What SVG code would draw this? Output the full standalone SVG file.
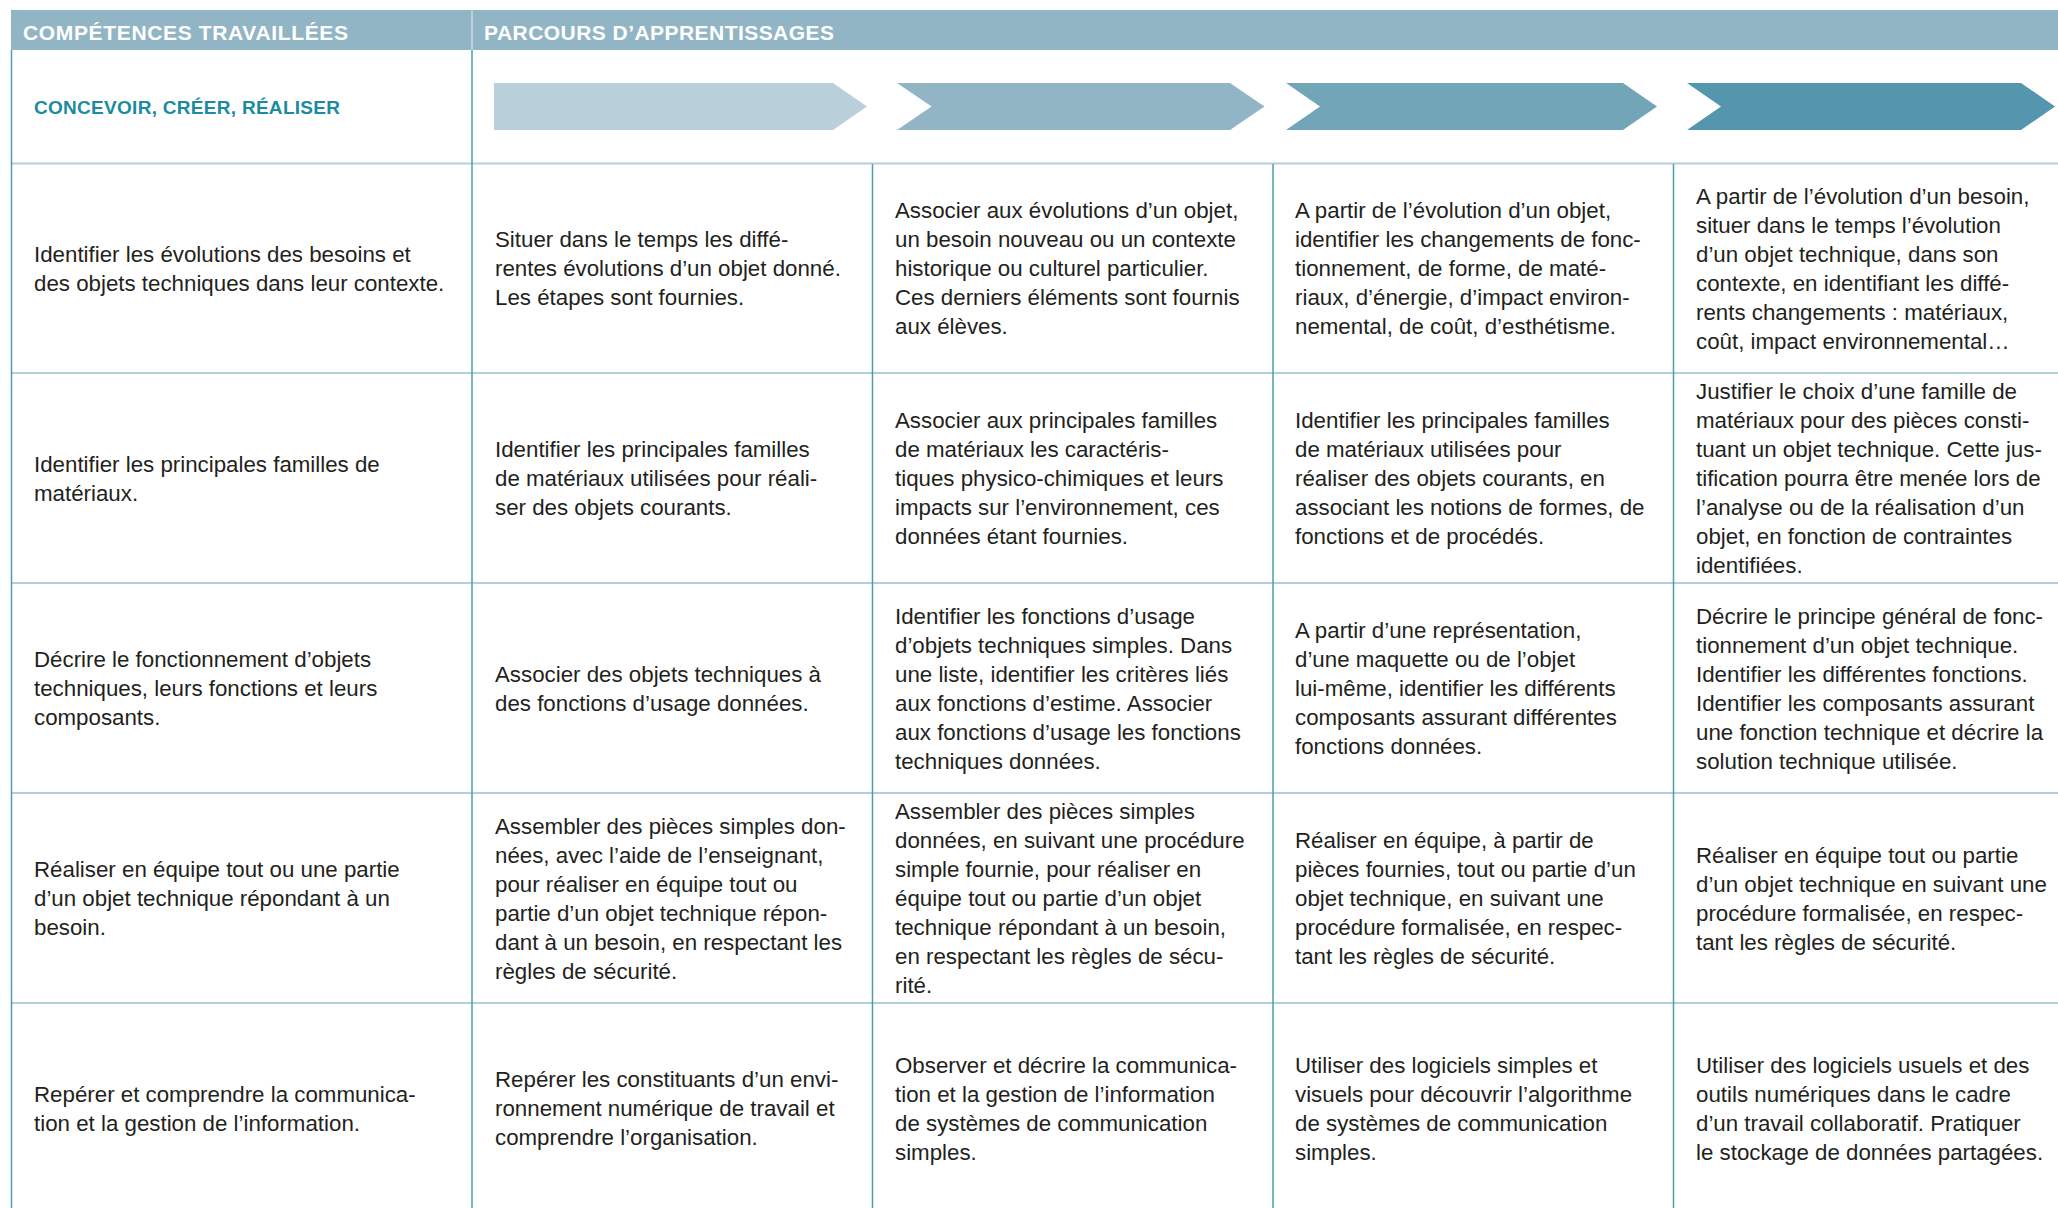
<svg xmlns="http://www.w3.org/2000/svg" width="2058" height="1208" viewBox="0 0 2058 1208">
<style>
.t{font-family:"Liberation Sans",Arial,sans-serif;font-size:22.3px;fill:#231f20}
.h{font-family:"Liberation Sans",Arial,sans-serif;font-size:21px;font-weight:bold;fill:#ffffff}
.c{font-family:"Liberation Sans",Arial,sans-serif;font-size:19px;font-weight:bold;fill:#1b8ba0}
.hl{stroke:#b3cfd9;stroke-width:2;fill:none}
.vl{stroke:#4f9db0;stroke-width:1.5;fill:none}
</style>
<rect width="2058" height="1208" fill="#ffffff"/>
<g id="header">
<rect x="11" y="10" width="2047" height="40" fill="#92b5c5"/>
<line x1="472" y1="10" x2="472" y2="50" stroke="#c9dce4" stroke-width="1.5"/>
<text class="h" x="23" y="39.5" textLength="325" lengthAdjust="spacing">COMPÉTENCES TRAVAILLÉES</text>
<text class="h" x="484" y="39.5" textLength="350" lengthAdjust="spacing">PARCOURS D’APPRENTISSAGES</text>
</g>
<g id="grid">
<line class="hl" x1="11" y1="163.5" x2="2058" y2="163.5"/>
<line class="hl" x1="11" y1="373" x2="2058" y2="373"/>
<line class="hl" x1="11" y1="583" x2="2058" y2="583"/>
<line class="hl" x1="11" y1="793" x2="2058" y2="793"/>
<line class="hl" x1="11" y1="1003" x2="2058" y2="1003"/>
<line class="vl" x1="11.5" y1="50" x2="11.5" y2="1208"/>
<line class="vl" x1="472" y1="50" x2="472" y2="1208"/>
<line class="vl" x1="872.5" y1="164" x2="872.5" y2="1208"/>
<line class="vl" x1="1273" y1="164" x2="1273" y2="1208"/>
<line class="vl" x1="1673.5" y1="164" x2="1673.5" y2="1208"/>
</g>
<g id="concevoir">
<text class="c" x="34" y="114.3" textLength="306" lengthAdjust="spacing">CONCEVOIR, CRÉER, RÉALISER</text>
</g>
<g id="arrows">
<polygon points="494,83 833,83 867,106.5 833,130 494,130" fill="#b9cfd9"/>
<polygon points="897,83 1230,83 1264.5,106.5 1230,130 897,130 931.6,106.5" fill="#92b5c5"/>
<polygon points="1286,83 1623,83 1657,106.5 1623,130 1286,130 1320,106.5" fill="#72a5b7"/>
<polygon points="1687,83 2021,83 2055,106.5 2021,130 1687,130 1721,106.5" fill="#5396ae"/>
</g>
<g id="connectors"></g>

<g id="r1c0"><text class="t" y="261.5"><tspan x="34">Identifier les évolutions des besoins et</tspan><tspan x="34" dy="29">des objets techniques dans leur contexte.</tspan></text></g>
<g id="r1c1"><text class="t" y="247"><tspan x="495">Situer dans le temps les diffé-</tspan><tspan x="495" dy="29">rentes évolutions d’un objet donné.</tspan><tspan x="495" dy="29">Les étapes sont fournies.</tspan></text></g>
<g id="r1c2"><text class="t" y="218"><tspan x="895">Associer aux évolutions d’un objet,</tspan><tspan x="895" dy="29">un besoin nouveau ou un contexte</tspan><tspan x="895" dy="29">historique ou culturel particulier.</tspan><tspan x="895" dy="29">Ces derniers éléments sont fournis</tspan><tspan x="895" dy="29">aux élèves.</tspan></text></g>
<g id="r1c3"><text class="t" y="218"><tspan x="1295">A partir de l’évolution d’un objet,</tspan><tspan x="1295" dy="29">identifier les changements de fonc-</tspan><tspan x="1295" dy="29">tionnement, de forme, de maté-</tspan><tspan x="1295" dy="29">riaux, d’énergie, d’impact environ-</tspan><tspan x="1295" dy="29">nemental, de coût, d’esthétisme.</tspan></text></g>
<g id="r1c4"><text class="t" y="203.5"><tspan x="1696">A partir de l’évolution d’un besoin,</tspan><tspan x="1696" dy="29">situer dans le temps l’évolution</tspan><tspan x="1696" dy="29">d’un objet technique, dans son</tspan><tspan x="1696" dy="29">contexte, en identifiant les diffé-</tspan><tspan x="1696" dy="29">rents changements : matériaux,</tspan><tspan x="1696" dy="29">coût, impact environnemental…</tspan></text></g>

<g id="r2c0"><text class="t" y="471.5"><tspan x="34">Identifier les principales familles de</tspan><tspan x="34" dy="29">matériaux.</tspan></text></g>
<g id="r2c1"><text class="t" y="457"><tspan x="495">Identifier les principales familles</tspan><tspan x="495" dy="29">de matériaux utilisées pour réali-</tspan><tspan x="495" dy="29">ser des objets courants.</tspan></text></g>
<g id="r2c2"><text class="t" y="428"><tspan x="895">Associer aux principales familles</tspan><tspan x="895" dy="29">de matériaux les caractéris-</tspan><tspan x="895" dy="29">tiques physico-chimiques et leurs</tspan><tspan x="895" dy="29">impacts sur l’environnement, ces</tspan><tspan x="895" dy="29">données étant fournies.</tspan></text></g>
<g id="r2c3"><text class="t" y="428"><tspan x="1295">Identifier les principales familles</tspan><tspan x="1295" dy="29">de matériaux utilisées pour</tspan><tspan x="1295" dy="29">réaliser des objets courants, en</tspan><tspan x="1295" dy="29">associant les notions de formes, de</tspan><tspan x="1295" dy="29">fonctions et de procédés.</tspan></text></g>
<g id="r2c4"><text class="t" y="399"><tspan x="1696">Justifier le choix d’une famille de</tspan><tspan x="1696" dy="29">matériaux pour des pièces consti-</tspan><tspan x="1696" dy="29">tuant un objet technique. Cette jus-</tspan><tspan x="1696" dy="29">tification pourra être menée lors de</tspan><tspan x="1696" dy="29">l’analyse ou de la réalisation d’un</tspan><tspan x="1696" dy="29">objet, en fonction de contraintes</tspan><tspan x="1696" dy="29">identifiées.</tspan></text></g>

<g id="r3c0"><text class="t" y="667"><tspan x="34">Décrire le fonctionnement d’objets</tspan><tspan x="34" dy="29">techniques, leurs fonctions et leurs</tspan><tspan x="34" dy="29">composants.</tspan></text></g>
<g id="r3c1"><text class="t" y="681.5"><tspan x="495">Associer des objets techniques à</tspan><tspan x="495" dy="29">des fonctions d’usage données.</tspan></text></g>
<g id="r3c2"><text class="t" y="623.5"><tspan x="895">Identifier les fonctions d’usage</tspan><tspan x="895" dy="29">d’objets techniques simples. Dans</tspan><tspan x="895" dy="29">une liste, identifier les critères liés</tspan><tspan x="895" dy="29">aux fonctions d’estime. Associer</tspan><tspan x="895" dy="29">aux fonctions d’usage les fonctions</tspan><tspan x="895" dy="29">techniques données.</tspan></text></g>
<g id="r3c3"><text class="t" y="638"><tspan x="1295">A partir d’une représentation,</tspan><tspan x="1295" dy="29">d’une maquette ou de l’objet</tspan><tspan x="1295" dy="29">lui-même, identifier les différents</tspan><tspan x="1295" dy="29">composants assurant différentes</tspan><tspan x="1295" dy="29">fonctions données.</tspan></text></g>
<g id="r3c4"><text class="t" y="623.5"><tspan x="1696">Décrire le principe général de fonc-</tspan><tspan x="1696" dy="29">tionnement d’un objet technique.</tspan><tspan x="1696" dy="29">Identifier les différentes fonctions.</tspan><tspan x="1696" dy="29">Identifier les composants assurant</tspan><tspan x="1696" dy="29">une fonction technique et décrire la</tspan><tspan x="1696" dy="29">solution technique utilisée.</tspan></text></g>

<g id="r4c0"><text class="t" y="877"><tspan x="34">Réaliser en équipe tout ou une partie</tspan><tspan x="34" dy="29">d’un objet technique répondant à un</tspan><tspan x="34" dy="29">besoin.</tspan></text></g>
<g id="r4c1"><text class="t" y="833.5"><tspan x="495">Assembler des pièces simples don-</tspan><tspan x="495" dy="29">nées, avec l’aide de l’enseignant,</tspan><tspan x="495" dy="29">pour réaliser en équipe tout ou</tspan><tspan x="495" dy="29">partie d’un objet technique répon-</tspan><tspan x="495" dy="29">dant à un besoin, en respectant les</tspan><tspan x="495" dy="29">règles de sécurité.</tspan></text></g>
<g id="r4c2"><text class="t" y="819"><tspan x="895">Assembler des pièces simples</tspan><tspan x="895" dy="29">données, en suivant une procédure</tspan><tspan x="895" dy="29">simple fournie, pour réaliser en</tspan><tspan x="895" dy="29">équipe tout ou partie d’un objet</tspan><tspan x="895" dy="29">technique répondant à un besoin,</tspan><tspan x="895" dy="29">en respectant les règles de sécu-</tspan><tspan x="895" dy="29">rité.</tspan></text></g>
<g id="r4c3"><text class="t" y="848"><tspan x="1295">Réaliser en équipe, à partir de</tspan><tspan x="1295" dy="29">pièces fournies, tout ou partie d’un</tspan><tspan x="1295" dy="29">objet technique, en suivant une</tspan><tspan x="1295" dy="29">procédure formalisée, en respec-</tspan><tspan x="1295" dy="29">tant les règles de sécurité.</tspan></text></g>
<g id="r4c4"><text class="t" y="862.5"><tspan x="1696">Réaliser en équipe tout ou partie</tspan><tspan x="1696" dy="29">d’un objet technique en suivant une</tspan><tspan x="1696" dy="29">procédure formalisée, en respec-</tspan><tspan x="1696" dy="29">tant les règles de sécurité.</tspan></text></g>

<g id="r5c0"><text class="t" y="1101.5"><tspan x="34">Repérer et comprendre la communica-</tspan><tspan x="34" dy="29">tion et la gestion de l’information.</tspan></text></g>
<g id="r5c1"><text class="t" y="1087"><tspan x="495">Repérer les constituants d’un envi-</tspan><tspan x="495" dy="29">ronnement numérique de travail et</tspan><tspan x="495" dy="29">comprendre l’organisation.</tspan></text></g>
<g id="r5c2"><text class="t" y="1072.5"><tspan x="895">Observer et décrire la communica-</tspan><tspan x="895" dy="29">tion et la gestion de l’information</tspan><tspan x="895" dy="29">de systèmes de communication</tspan><tspan x="895" dy="29">simples.</tspan></text></g>
<g id="r5c3"><text class="t" y="1072.5"><tspan x="1295">Utiliser des logiciels simples et</tspan><tspan x="1295" dy="29">visuels pour découvrir l’algorithme</tspan><tspan x="1295" dy="29">de systèmes de communication</tspan><tspan x="1295" dy="29">simples.</tspan></text></g>
<g id="r5c4"><text class="t" y="1072.5"><tspan x="1696">Utiliser des logiciels usuels et des</tspan><tspan x="1696" dy="29">outils numériques dans le cadre</tspan><tspan x="1696" dy="29">d’un travail collaboratif. Pratiquer</tspan><tspan x="1696" dy="29">le stockage de données partagées.</tspan></text></g>
</svg>
